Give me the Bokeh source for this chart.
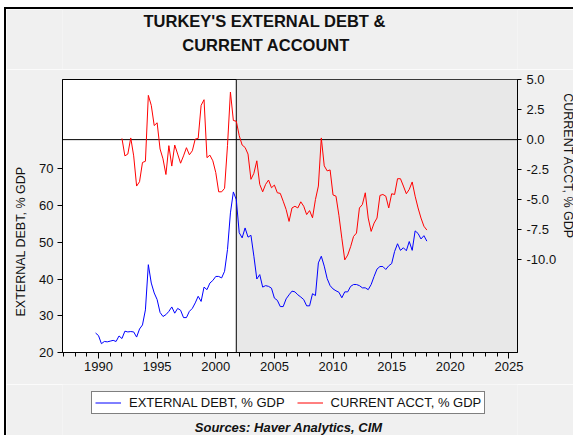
from bokeh.plotting import figure
from bokeh.layouts import column
from bokeh.models import (Range1d, LinearAxis, FixedTicker, PrintfTickFormatter,
                          Span, BoxAnnotation, Legend, LegendItem, Title, Label)
from bokeh.embed import file_html
from bokeh.resources import INLINE

# ---------------- data ----------------
debt_start = 1989.75          # first quarter of the external debt series
debt = [25.3, 24.6, 22.4, 23.0, 22.9, 23.1, 23.3, 23.0, 24.5, 23.8,
        25.8, 25.6, 25.7, 25.6, 24.2, 26.4, 27.5, 31.6, 43.9, 38.9,
        36.2, 34.4, 30.9, 29.8, 30.3, 31.2, 32.4, 30.7, 32.0, 31.5,
        29.5, 29.5, 31.2, 32.0, 33.5, 35.3, 33.9, 37.8, 37.1, 38.9,
        39.6, 40.7, 40.7, 40.3, 42.1, 48.0, 58.0, 63.7, 61.6, 52.6,
        51.2, 53.9, 51.4, 51.9, 46.2, 40.0, 41.2, 37.8, 38.2, 38.0,
        37.5, 34.8, 34.2, 32.5, 32.5, 34.6, 35.7, 36.7, 36.5, 35.7,
        35.1, 34.4, 32.7, 32.7, 36.0, 35.5, 44.4, 46.2, 43.5, 40.1,
        38.2, 37.3, 36.8, 36.4, 34.9, 36.5, 36.5, 38.0, 38.5, 38.5,
        38.2, 37.6, 37.6, 37.1, 38.5, 40.7, 42.7, 43.4, 43.4, 42.6,
        43.6, 44.2, 47.5, 49.6, 47.8, 48.5, 47.7, 50.2, 47.8, 53.1,
        52.4, 50.9, 51.8, 50.3]

ca_start = 1992.0             # first quarter of the current account series
ca = [0.1, -1.35, -1.2, 0.14, -1.35, -3.86, -3.5, -1.9, -1.8, 3.68,
      2.85, 1.17, 1.4, -0.78, -1.6, -2.9, -0.5, -2.2, -0.45, -1.2,
      -1.96, -1.35, -0.67, -1.26, -0.93, 0.05, 0.1, 2.85, 3.32, -1.5,
      -1.29, -1.76, -2.74, -4.34, -4.34, -4.05, -0.5, 3.96, 1.59, 1.53,
      0.33, -0.45, -0.65, -1.2, -3.3, -2.8, -1.76, -3.72, -4.34, -3.72,
      -3.36, -4.0, -3.78, -4.42, -4.47, -5.12, -5.81, -6.8, -5.68, -5.54,
      -5.68, -5.17, -5.54, -6.23, -5.9, -6.5, -4.98, -3.86, 0.14, -2.18,
      -2.6, -2.52, -4.6, -4.7, -6.29, -8.2, -10.0, -9.6, -8.9, -8.05,
      -7.77, -5.68, -5.4, -4.42, -6.52, -7.63, -6.94, -6.52, -4.64, -4.56,
      -4.7, -5.68, -4.5, -4.56, -3.25, -3.25, -3.86, -4.5, -4.14, -3.52,
      -4.7, -5.68, -6.52, -7.2, -7.52]

x_ticks = [1990, 1995, 2000, 2005, 2010, 2015, 2020, 2025]
x_minor = list(range(1987, 2026))
debt_ticks = [20, 30, 40, 50, 60, 70]
ca_ticks = [-10.0, -7.5, -5.0, -2.5, 0.0, 2.5, 5.0]
break_year = 2001.75

title1 = "TURKEY'S EXTERNAL DEBT &"
title2 = "CURRENT ACCOUNT"
debt_label = "EXTERNAL DEBT, % GDP"
ca_label = "CURRENT ACCT, % GDP"
source_text = "Sources:  Haver Analytics, CIM"

debt_x = [debt_start + 0.25 * i for i in range(len(debt))]
ca_x = [ca_start + 0.25 * i for i in range(len(ca))]

# ---------------- layout ----------------
W = 567                      # canvas width (inside a 2px left border at x=4)
H_TOP, H_MAIN, H_LEG = 60, 315, 51
L, R, T, B = 56, 54, 10, 32
X0, X1 = 1986.93, 2025.73
Y0, Y1 = 20.0, 94.3
C0, C1 = -17.7, 5.0
FONT = "Liberation Sans"
TXT = "#111111"
BG = "#f0f0f0"
PX_LEFT, PX_RIGHT = 62, 519  # page x of the (column-aligned) frame edges


def text_panel(height, page_top):
    """Axis-less panel whose data units are page pixels."""
    f = figure(width=W, height=height, output_backend="svg",
               toolbar_location=None, x_range=Range1d(PX_LEFT, PX_RIGHT),
               y_range=Range1d(page_top + height, page_top),
               x_axis_type=None, y_axis_type=None, title=None,
               min_border_left=L, min_border_right=R, min_border_top=0,
               min_border_bottom=0, background_fill_color=BG,
               border_fill_color=BG, outline_line_color=None)
    f.xgrid.visible = False
    f.ygrid.visible = False
    return f


# ---- title panel
pt = text_panel(H_TOP, 9)
pt.add_layout(Label(x=265, y=20, text=title1, text_font=FONT,
                    text_font_style="bold", text_font_size="16.5px",
                    text_align="center", text_baseline="middle",
                    text_color=TXT))
pt.add_layout(Label(x=266.5, y=44, text=title2, text_font=FONT,
                    text_font_style="bold", text_font_size="16.5px",
                    text_align="center", text_baseline="middle",
                    text_color=TXT))

# ---- main chart
p = figure(width=W, height=H_MAIN, output_backend="svg", toolbar_location=None,
           x_range=Range1d(X0, X1), y_range=Range1d(Y0, Y1), title=None,
           min_border_left=L, min_border_right=R, min_border_top=T,
           min_border_bottom=B, background_fill_color="white",
           border_fill_color=BG, outline_line_color="black",
           outline_line_width=1)
p.extra_y_ranges = {"ca": Range1d(C0, C1)}
p.xgrid.visible = False
p.ygrid.visible = False

p.add_layout(BoxAnnotation(left=break_year, fill_color="#e8e8e8", fill_alpha=1,
                           line_color=None, level="underlay"))
p.add_layout(Span(location=break_year, dimension="height", line_color="black",
                  line_width=1, level="underlay"))
p.add_layout(Span(location=0, dimension="width", y_range_name="ca",
                  line_color="black", line_width=1, level="underlay"))

p.line(debt_x, debt, line_color="#0000ff", line_width=1)
p.line(ca_x, ca, line_color="#ff0000", line_width=1, y_range_name="ca")

xa = p.xaxis[0]
xa.ticker = FixedTicker(ticks=x_ticks, minor_ticks=x_minor)
xa.major_tick_out = 6
xa.major_tick_in = 0
xa.minor_tick_out = 4
xa.minor_tick_in = 0
xa.major_label_standoff = 3

ya = p.yaxis[0]
ya.ticker = FixedTicker(ticks=debt_ticks)
ya.major_tick_out = 5
ya.major_tick_in = 0
ya.minor_tick_out = 0
ya.minor_tick_in = 0
ya.major_label_standoff = 4

ra = LinearAxis(y_range_name="ca", ticker=FixedTicker(ticks=ca_ticks),
                formatter=PrintfTickFormatter(format="%.1f"))
ra.major_tick_out = 4
ra.major_tick_in = 0
ra.minor_tick_out = 0
ra.minor_tick_in = 0
ra.major_label_standoff = 5
p.add_layout(ra, "right")

for ax in (xa, ya, ra):
    ax.axis_line_color = "black"
    ax.major_tick_line_color = "black"
    ax.minor_tick_line_color = "black"
    ax.major_label_text_font = FONT
    ax.major_label_text_font_size = "13px"
    ax.major_label_text_color = TXT

p.add_layout(Title(text=debt_label, align="left", offset=36, standoff=14,
                   vertical_align="top", text_font=FONT,
                   text_font_style="normal", text_font_size="12.5px",
                   text_color=TXT), "left")
p.add_layout(Title(text=ca_label, align="left", offset=13.7, standoff=-2,
                   vertical_align="top", text_font=FONT,
                   text_font_style="normal", text_font_size="12.5px",
                   text_color=TXT), "right")

# ---- legend + sources panel
pl = text_panel(H_LEG, 384)
nan = [float("nan")]
lr_debt = pl.line(x=nan, y=nan, line_color="#0000ff", line_width=1)
lr_ca = pl.line(x=nan, y=nan, line_color="#ff0000", line_width=1)
legend = Legend(items=[LegendItem(label=debt_label, renderers=[lr_debt]),
                       LegendItem(label=ca_label, renderers=[lr_ca])],
                orientation="horizontal", location=(29, 21),
                border_line_color="black", border_line_width=1,
                background_fill_color="white", background_fill_alpha=1,
                padding=3, spacing=12, glyph_width=26, glyph_height=15,
                label_height=15, label_standoff=8, margin=0,
                label_text_font=FONT, label_text_font_size="13px",
                label_text_color=TXT)
pl.add_layout(legend, "center")
pl.add_layout(Label(x=291, y=427, text=source_text, text_font=FONT,
                    text_font_style="bold italic", text_font_size="13px",
                    text_align="center", text_baseline="middle",
                    text_color=TXT))

layout = column(pt, p, pl, spacing=0,
                styles={"margin-left": "4px", "margin-top": "7px",
                        "border-left": "2px solid black",
                        "border-top": "2px solid black"})

open("out.html", "w").write(file_html(layout, INLINE))
